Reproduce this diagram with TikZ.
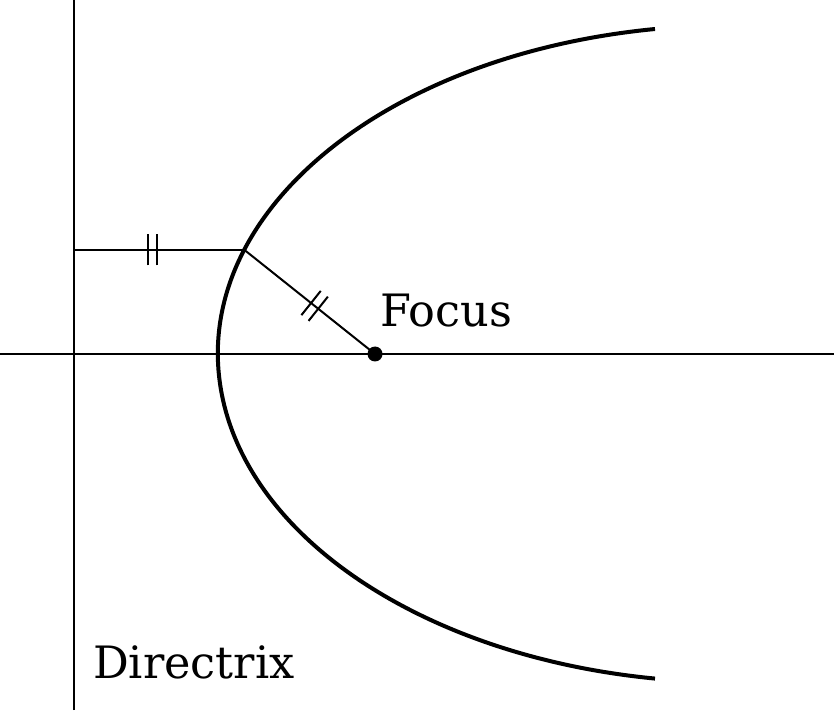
\documentclass[tikz,border=0pt]{standalone}
\usepackage{fontspec}
\setmainfont{DejaVu Serif}
\usetikzlibrary{calc}
\begin{document}
\begin{tikzpicture}[x=1pt,y=1pt,
  thinline/.style={line width=2pt},
  curveline/.style={line width=4pt},
  tickmark/.style={line width=2pt},
  lbl/.style={inner sep=0pt,anchor=base west,font=\fontsize{44.6}{50}\selectfont}]
\useasboundingbox (0,0) rectangle (834,710);
% key points
\coordinate (dirTop) at (74,710);
\coordinate (dirBot) at (74,0);
\coordinate (axL) at (0,356);
\coordinate (axR) at (834,356);
\coordinate (F) at (375,356);
\coordinate (P) at (244.5,460);
\coordinate (Q) at (74,460);
\coordinate (top) at (655,681);
% axes
\draw[thinline] (dirBot) -- (dirTop);
\draw[thinline] (axL) -- (axR);
% equal distances
\draw[thinline] (Q) -- (P);
\draw[thinline] (P) -- (F);
% curve
\draw[curveline] (top) arc[start angle=98.6, end angle=261.4, x radius=514pt, y radius=328.5pt];
% ticks on horizontal segment
\coordinate (h1) at (148,460);
\coordinate (h2) at (157,460);
\draw[tickmark] ($(h1)+(0,-15.5)$) -- ($(h1)+(0,15.5)$);
\draw[tickmark] ($(h2)+(0,-15.5)$) -- ($(h2)+(0,15.5)$);
% ticks on slanted segment
\coordinate (d1) at ($(P)!0.51!(F)$);
\coordinate (d2) at ($(P)!0.565!(F)$);
\draw[tickmark] ($(d1)!15.5pt!90:(F)$) -- ($(d1)!15.5pt!-90:(F)$);
\draw[tickmark] ($(d2)!15.5pt!90:(F)$) -- ($(d2)!15.5pt!-90:(F)$);
% focus dot
\fill (F) circle[radius=7.5pt];
% labels
\node[lbl] (focuslbl) at (380,383) {Focus};
\node[lbl] (dirlbl) at (93,32) {Directrix};
\end{tikzpicture}
\end{document}
